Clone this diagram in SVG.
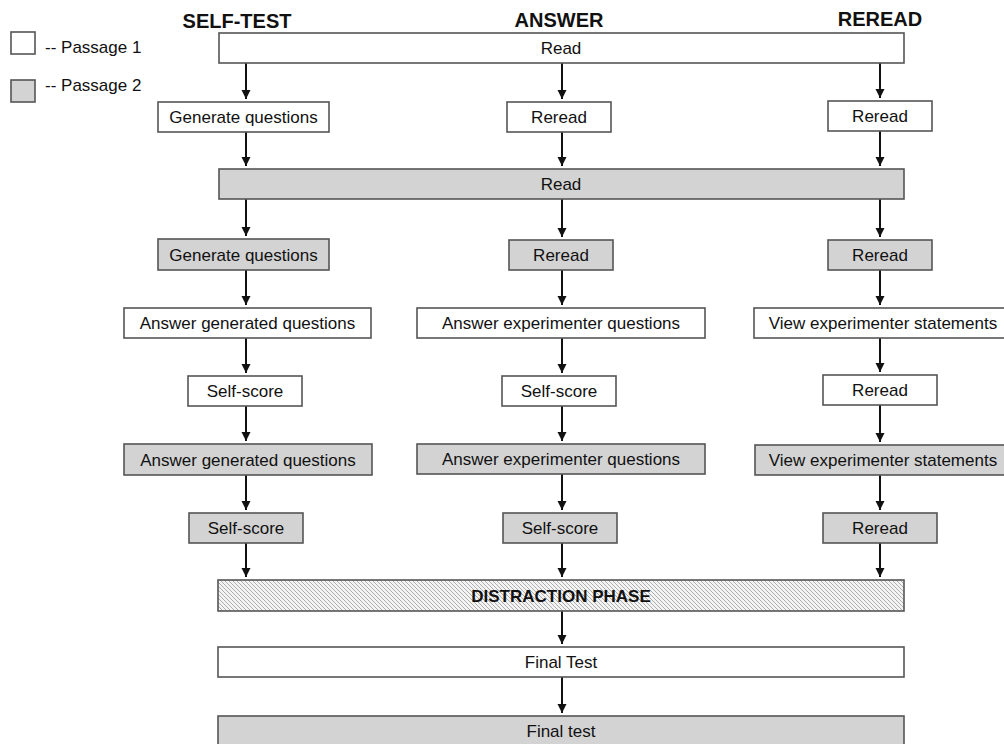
<svg xmlns="http://www.w3.org/2000/svg" width="1004" height="744" viewBox="0 0 1004 744">
<defs>
<style>
.p1{fill:#ffffff;stroke:#555555;stroke-width:1.6}
.p2{fill:#d3d3d3;stroke:#555555;stroke-width:1.6}
.dp{fill:url(#hatch);stroke:#555555;stroke-width:1.6}
.t{font-family:"Liberation Sans",Arial,sans-serif;font-size:17px;fill:#111111;text-anchor:middle}
.lg{font-family:"Liberation Sans",Arial,sans-serif;font-size:17px;fill:#111111}
.h{font-family:"Liberation Sans",Arial,sans-serif;font-size:20px;font-weight:bold;fill:#111111;text-anchor:middle}
.b{font-weight:bold}
.c line{stroke:#111111;stroke-width:2;marker-end:url(#ah)}
</style>
<marker id="ah" markerUnits="userSpaceOnUse" markerWidth="10" markerHeight="10" refX="9" refY="4.5" orient="auto">
<path d="M0,0 L9,4.5 L0,9 z" fill="#111111"/>
</marker>
<pattern id="hatch" patternUnits="userSpaceOnUse" width="4" height="4">
<rect width="4" height="4" fill="#f4f4f4"/>
<path d="M0,0 L4,4 M-1,3 L1,5 M3,-1 L5,1" stroke="#9a9a9a" stroke-width="0.8"/>
</pattern>
</defs>
<rect width="1004" height="744" fill="#ffffff"/>

<g id="legend">
<rect class="p1" x="11" y="32" width="24" height="22"/>
<text class="lg" x="45" y="53">-- Passage 1</text>
<rect class="p2" x="11" y="80" width="24" height="22"/>
<text class="lg" x="45" y="91">-- Passage 2</text>
</g>

<g id="headers">
<text class="h" x="237" y="28">SELF-TEST</text>
<text class="h" x="559" y="27">ANSWER</text>
<text class="h" x="880" y="26">REREAD</text>
</g>

<g class="c" id="connectors">
<line x1="246" y1="63" x2="246" y2="99"/>
<line x1="246" y1="132" x2="246" y2="166"/>
<line x1="246" y1="199" x2="246" y2="236"/>
<line x1="246" y1="270" x2="246" y2="305"/>
<line x1="246" y1="338" x2="246" y2="373"/>
<line x1="246" y1="406" x2="246" y2="441"/>
<line x1="246" y1="475" x2="246" y2="510"/>
<line x1="246" y1="543" x2="246" y2="577"/>

<line x1="562" y1="63" x2="562" y2="99"/>
<line x1="562" y1="132" x2="562" y2="166"/>
<line x1="562" y1="199" x2="562" y2="237"/>
<line x1="562" y1="270" x2="562" y2="305"/>
<line x1="562" y1="338" x2="562" y2="373"/>
<line x1="562" y1="406" x2="562" y2="441"/>
<line x1="562" y1="474" x2="562" y2="510"/>
<line x1="562" y1="543" x2="562" y2="577"/>
<line x1="562" y1="611" x2="562" y2="644"/>
<line x1="562" y1="677" x2="562" y2="713"/>

<line x1="880" y1="63" x2="880" y2="98"/>
<line x1="880" y1="131" x2="880" y2="166"/>
<line x1="880" y1="199" x2="880" y2="237"/>
<line x1="880" y1="270" x2="880" y2="305"/>
<line x1="880" y1="338" x2="880" y2="372"/>
<line x1="880" y1="405" x2="880" y2="442"/>
<line x1="880" y1="475" x2="880" y2="510"/>
<line x1="880" y1="543" x2="880" y2="577"/>
</g>

<g id="read1"><rect class="p1" x="219" y="33" width="685" height="30"/><text class="t" x="561" y="54">Read</text></g>

<g id="st-gen1"><rect class="p1" x="158" y="102" width="171" height="30"/><text class="t" x="243.5" y="123">Generate questions</text></g>
<g id="an-reread1"><rect class="p1" x="507" y="102" width="104" height="30"/><text class="t" x="559" y="123">Reread</text></g>
<g id="rr-reread1"><rect class="p1" x="828" y="101" width="104" height="30"/><text class="t" x="880" y="122">Reread</text></g>

<g id="read2"><rect class="p2" x="219" y="169" width="685" height="30"/><text class="t" x="561" y="190">Read</text></g>

<g id="st-gen2"><rect class="p2" x="158" y="239" width="171" height="31"/><text class="t" x="243.5" y="261">Generate questions</text></g>
<g id="an-reread2"><rect class="p2" x="509" y="240" width="104" height="30"/><text class="t" x="561" y="261">Reread</text></g>
<g id="rr-reread2"><rect class="p2" x="828" y="240" width="104" height="30"/><text class="t" x="880" y="261">Reread</text></g>

<g id="st-ans1"><rect class="p1" x="124" y="308" width="247" height="30"/><text class="t" x="247.5" y="329">Answer generated questions</text></g>
<g id="an-ans1"><rect class="p1" x="417" y="308" width="288" height="30"/><text class="t" x="561" y="329">Answer experimenter questions</text></g>
<g id="rr-view1"><rect class="p1" x="754" y="308" width="258" height="30"/><text class="t" x="883" y="329">View experimenter statements</text></g>

<g id="st-score1"><rect class="p1" x="188" y="376" width="114" height="30"/><text class="t" x="245" y="397">Self-score</text></g>
<g id="an-score1"><rect class="p1" x="502" y="376" width="114" height="30"/><text class="t" x="559" y="397">Self-score</text></g>
<g id="rr-reread3"><rect class="p1" x="823" y="375" width="114" height="30"/><text class="t" x="880" y="396">Reread</text></g>

<g id="st-ans2"><rect class="p2" x="124" y="444" width="248" height="31"/><text class="t" x="248" y="466">Answer generated questions</text></g>
<g id="an-ans2"><rect class="p2" x="417" y="444" width="288" height="30"/><text class="t" x="561" y="465">Answer experimenter questions</text></g>
<g id="rr-view2"><rect class="p2" x="755" y="445" width="257" height="30"/><text class="t" x="883" y="466">View experimenter statements</text></g>

<g id="st-score2"><rect class="p2" x="189" y="513" width="114" height="30"/><text class="t" x="246" y="534">Self-score</text></g>
<g id="an-score2"><rect class="p2" x="503" y="513" width="114" height="30"/><text class="t" x="560" y="534">Self-score</text></g>
<g id="rr-reread4"><rect class="p2" x="823" y="513" width="114" height="30"/><text class="t" x="880" y="534">Reread</text></g>

<g id="distraction"><rect class="dp" x="218" y="580" width="686" height="31"/><text class="t b" x="561" y="602">DISTRACTION PHASE</text></g>
<g id="final1"><rect class="p1" x="218" y="647" width="686" height="30"/><text class="t" x="561" y="668">Final Test</text></g>
<g id="final2"><rect class="p2" x="218" y="716" width="686" height="30"/><text class="t" x="561" y="737">Final test</text></g>
</svg>
